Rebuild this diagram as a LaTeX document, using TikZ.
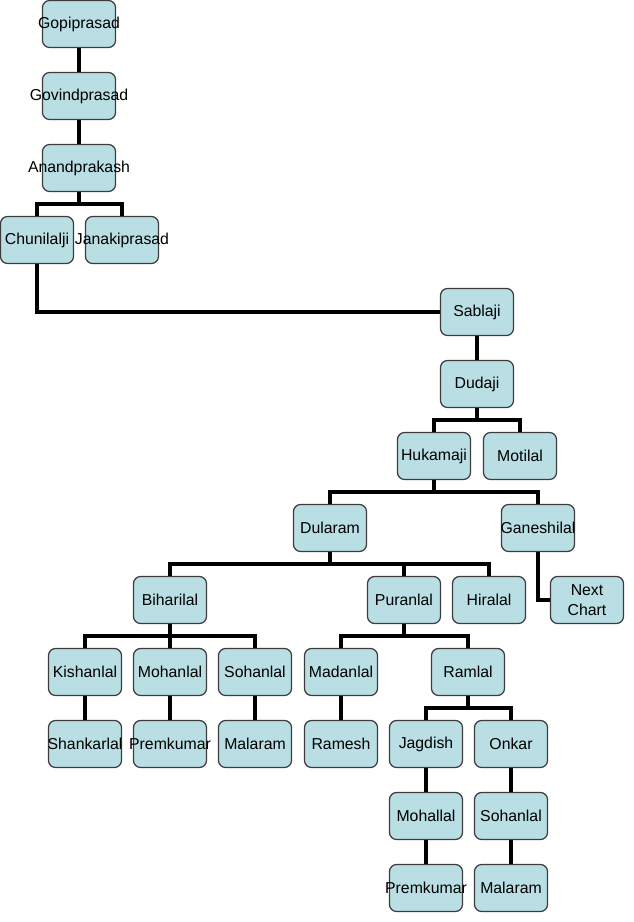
\documentclass[tikz,border=0pt]{standalone}
\usepackage{fontspec}
\setmainfont{Liberation Sans}

\definecolor{boxfill}{RGB}{185,222,227}
\definecolor{boxline}{RGB}{60,60,60}
\newcommand{\nm}[1]{\makebox[0pt]{#1}}

\begin{document}
\begin{tikzpicture}[x=0.02cm,y=-0.02cm,
  person/.style={draw=boxline, line width=0.7pt, fill=boxfill, rounded corners=4pt,
    minimum width=1.46cm, minimum height=0.94cm, inner sep=0pt,
    font=\fontsize{9}{11}\selectfont, align=center},
  link/.style={line width=2.1pt}]
\useasboundingbox (0,0) rectangle (633,922);

% first generations
\node[person] (gopi) at (79,24) {\nm{Gopiprasad}};
\node[person] (govind) at (79,96) {\nm{Govindprasad}};
\node[person] (anand) at (79,168) {\nm{Anandprakash}};
\node[person] (chuni) at (37,240) {\nm{Chunilalji}};
\node[person] (janaki) at (122,240) {\nm{Janakiprasad}};

% Sablaji line
\node[person] (sablaji) at (477,312) {\nm{Sablaji}};
\node[person] (dudaji) at (477,384) {\nm{Dudaji}};
\node[person] (hukamaji) at (434,456) {\nm{Hukamaji}};
\node[person] (motilal) at (520,456) {\nm{Motilal}};
\node[person] (dularam) at (330,528) {\nm{Dularam}};
\node[person] (ganeshilal) at (538,528) {\nm{Ganeshilal}};
\node[person] (nextchart) at (587,600) {Next\\Chart};
\node[person] (biharilal) at (170,600) {\nm{Biharilal}};
\node[person] (puranlal) at (404,600) {\nm{Puranlal}};
\node[person] (hiralal) at (489,600) {\nm{Hiralal}};

% grandsons of Dularam
\node[person] (kishanlal) at (85,672) {\nm{Kishanlal}};
\node[person] (mohanlal) at (170,672) {\nm{Mohanlal}};
\node[person] (sohanlal) at (255,672) {\nm{Sohanlal}};
\node[person] (madanlal) at (341,672) {\nm{Madanlal}};
\node[person] (ramlal) at (468,672) {\nm{Ramlal}};
\node[person] (shankarlal) at (85,744) {\nm{Shankarlal}};
\node[person] (premkumar) at (170,744) {\nm{Premkumar}};
\node[person] (malaram) at (255,744) {\nm{Malaram}};
\node[person] (ramesh) at (341,744) {\nm{Ramesh}};
\node[person] (jagdish) at (426,744) {\nm{Jagdish}};
\node[person] (onkar) at (511,744) {\nm{Onkar}};
\node[person] (mohallal) at (426,816) {\nm{Mohallal}};
\node[person] (sohanlalB) at (511,816) {\nm{Sohanlal}};
\node[person] (premkumarB) at (426,888) {\nm{Premkumar}};
\node[person] (malaramB) at (511,888) {\nm{Malaram}};

% parent to child
\foreach \p/\c in {gopi/govind, govind/anand, anand/chuni, anand/janaki,
    sablaji/dudaji, dudaji/hukamaji, dudaji/motilal,
    hukamaji/dularam, hukamaji/ganeshilal,
    dularam/biharilal, dularam/puranlal, dularam/hiralal,
    biharilal/kishanlal, biharilal/mohanlal, biharilal/sohanlal,
    puranlal/madanlal, puranlal/ramlal,
    kishanlal/shankarlal, mohanlal/premkumar, sohanlal/malaram, madanlal/ramesh,
    ramlal/jagdish, ramlal/onkar, jagdish/mohallal, onkar/sohanlalB,
    mohallal/premkumarB, sohanlalB/malaramB}
  \draw[link] (\p.south) -- ++(0,12) -| (\c.north);

\draw[link] (chuni.south) |- (sablaji.west);
\draw[link] (ganeshilal.south) |- (nextchart.west);
\end{tikzpicture}
\end{document}
